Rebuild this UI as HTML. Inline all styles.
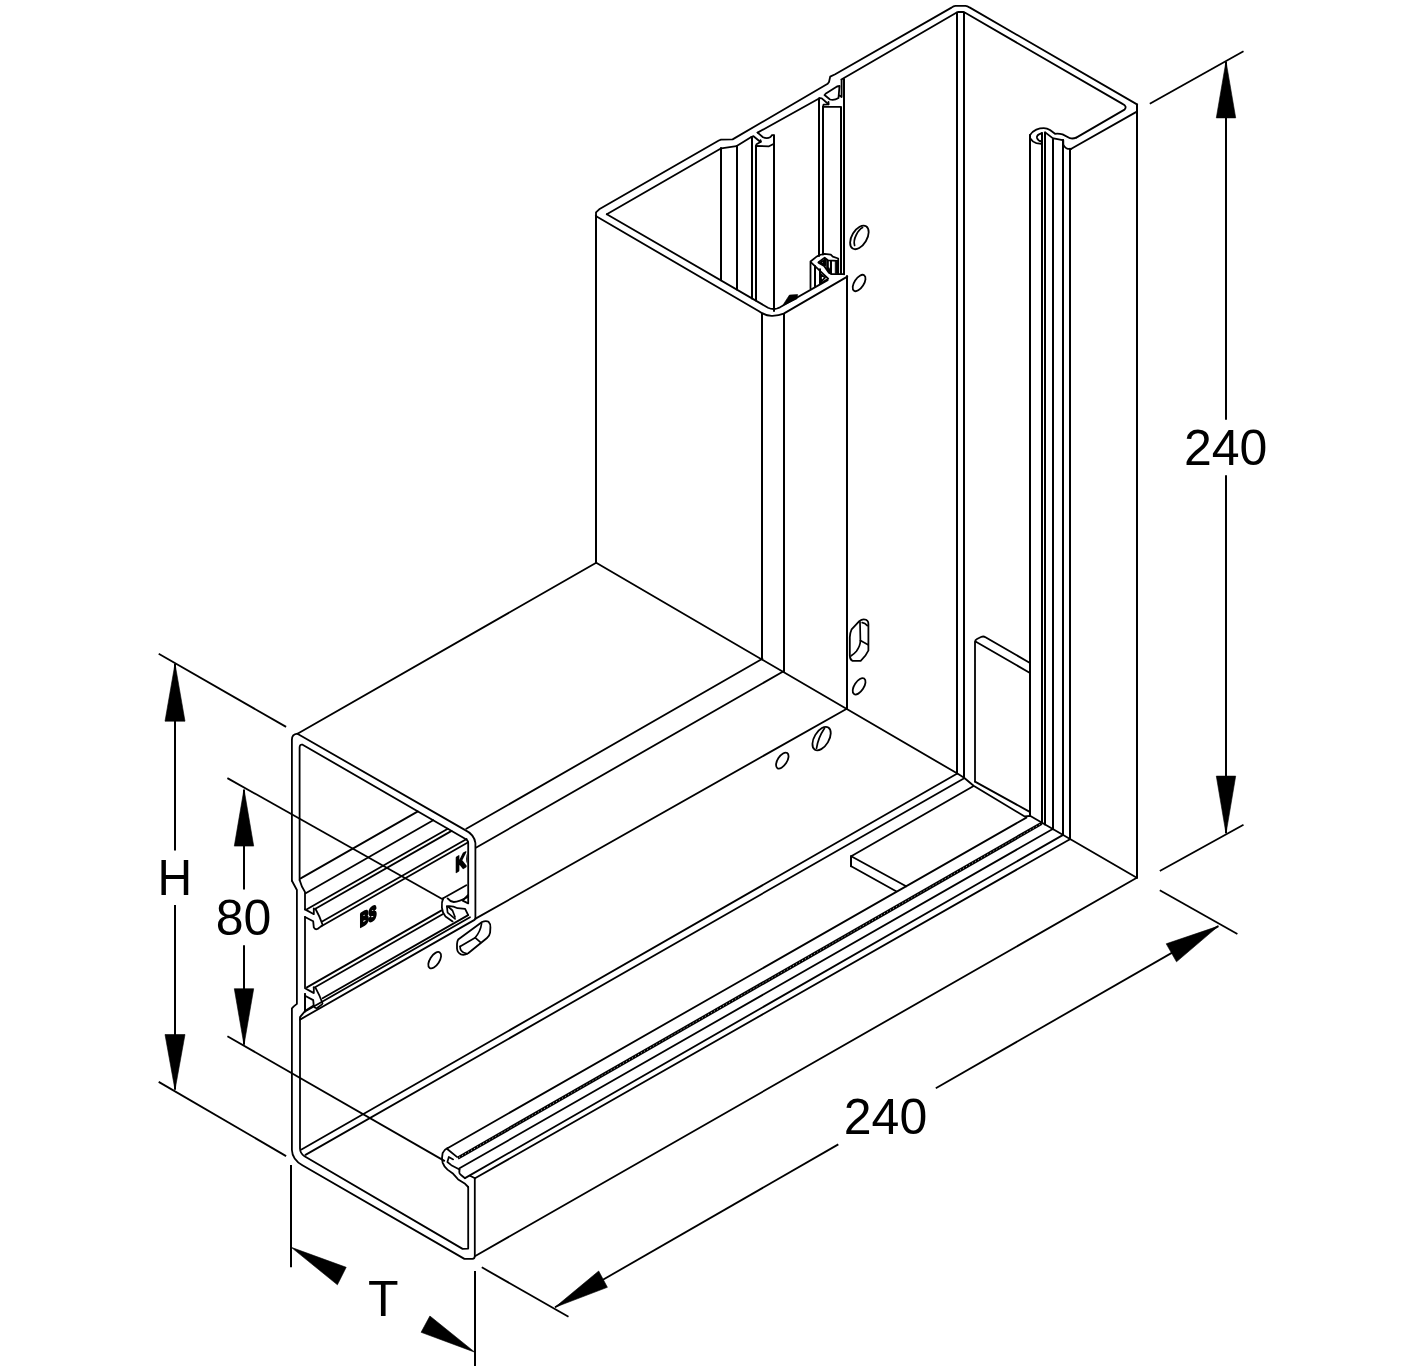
<!DOCTYPE html>
<html><head><meta charset="utf-8"><title>240 H 80 T</title>
<style>
html,body{margin:0;padding:0;background:#fff}
svg{display:block}
.o{fill:none;stroke:#000;stroke-width:1.8;stroke-linecap:round;stroke-linejoin:round}
.d{fill:none;stroke:#000;stroke-width:1.8;stroke-linecap:butt}
.t{fill:none;stroke:#000;stroke-width:1.7;stroke-linecap:round;stroke-linejoin:round}
.v{stroke-width:2}
.k{fill:#000;stroke:#000;stroke-width:0.6;stroke-linejoin:miter}
.w{fill:#fff;stroke:none}
text{font-family:"Liberation Sans",Arial,sans-serif;fill:#000}
</style></head><body>
<svg width="1417" height="1366" viewBox="0 0 1417 1366">
<rect class="w" x="0" y="0" width="1417" height="1366"/>
<line class="d" x1="1149.8" y1="103.7" x2="1243.5" y2="51.2"/>
<line class="d" x1="1159.8" y1="871.0" x2="1243.5" y2="824.8"/>
<line class="d v" x1="1226" y1="62.0" x2="1226" y2="419.7"/>
<line class="d v" x1="1226" y1="475.2" x2="1226" y2="833.0"/>
<path class="k" d="M1226.0,61.2 L1216.3,117.9 L1235.7,117.9Z"/>
<path class="k" d="M1226.0,833.6 L1216.3,776.1 L1235.7,776.1Z"/>
<text x="1183.9" y="464.7" font-size="50" >240</text>
<line class="d" x1="1159.8" y1="890.3" x2="1237.4" y2="934.0"/>
<line class="d" x1="481.8" y1="1267.3" x2="568.5" y2="1316.8"/>
<line class="d" x1="555.0" y1="1307.3" x2="838.3" y2="1144.4"/>
<line class="d" x1="935.8" y1="1088.3" x2="1218.4" y2="926.1"/>
<path class="k" d="M555.0,1307.3 L598.7,1271.0 L607.4,1287.3Z"/>
<path class="k" d="M1218.4,926.1 L1166.2,943.8 L1176.5,961.8Z"/>
<text x="843.8" y="1133.9" font-size="50" >240</text>
<line class="d" x1="158.7" y1="653.7" x2="286.1" y2="726.9"/>
<line class="d" x1="158.7" y1="1081.9" x2="286.1" y2="1156.1"/>
<line class="d v" x1="175" y1="664.0" x2="175" y2="850.4"/>
<line class="d v" x1="175" y1="905.0" x2="175" y2="1089.5"/>
<path class="k" d="M175.0,663.7 L165.0,721.2 L185.0,721.2Z"/>
<path class="k" d="M175.0,1089.9 L165.0,1034.5 L185.0,1034.5Z"/>
<text x="0.0" y="0.0" font-size="50" transform="translate(157.6,894.6) scale(0.96,1)">H</text>
<line class="d" x1="227.4" y1="778.1" x2="443.5" y2="899.8"/>
<line class="d" x1="227.4" y1="1036.2" x2="444.8" y2="1161.1"/>
<line class="d v" x1="244" y1="790.0" x2="244" y2="889.6"/>
<line class="d v" x1="244" y1="945.2" x2="244" y2="1044.5"/>
<path class="k" d="M244.0,789.1 L234.3,846.1 L253.7,846.1Z"/>
<path class="k" d="M244.0,1045.0 L234.3,988.7 L253.7,988.7Z"/>
<text x="215.8" y="934.5" font-size="50" >80</text>
<line class="d v" x1="291" y1="1165.0" x2="291" y2="1267.3"/>
<line class="d v" x1="475" y1="1271.0" x2="475" y2="1366.0"/>
<path class="k" d="M291.2,1247.3 L346.2,1267.3 L337.4,1284.8Z"/>
<path class="k" d="M474.8,1352.2 L429.9,1316.0 L421.1,1332.3Z"/>
<text x="368.0" y="1316.4" font-size="50" >T</text>
<path class="o" d="M596.2,562.8 L957.0,773.3 L964.1,777.8 L973.6,785.8 L1024.7,816.5 L1030.0,815.8 L1136.8,877.8"/>
<line class="o" x1="475.3" y1="1256.0" x2="1136.8" y2="877.8"/>
<line class="o" x1="297.5" y1="733.7" x2="596.2" y2="562.8"/>
<line class="o" x1="466.3" y1="828.8" x2="762.4" y2="658.7"/>
<line class="o" x1="476.3" y1="847.5" x2="783.6" y2="671.2"/>
<line class="o" x1="475.1" y1="918.9" x2="846.8" y2="708.7"/>
<line class="o v" x1="596" y1="215.5" x2="596" y2="562.8"/>
<line class="o v" x1="762" y1="313.5" x2="762" y2="658.7"/>
<line class="o v" x1="784" y1="313.9" x2="784" y2="671.2"/>
<line class="o v" x1="847" y1="276.0" x2="847" y2="708.7"/>
<line class="o v" x1="1137" y1="104.5" x2="1137" y2="877.8"/>
<line class="o v" x1="957" y1="12.5" x2="957" y2="773.6"/>
<line class="o v" x1="964" y1="12.5" x2="964" y2="778.0"/>
<line class="o v" x1="1030" y1="135.0" x2="1030" y2="815.8"/>
<line class="o v" x1="1042" y1="133.0" x2="1042" y2="822.8"/>
<line class="o v" x1="1045" y1="132.6" x2="1045" y2="824.4"/>
<line class="o v" x1="1053" y1="139.4" x2="1053" y2="829.3"/>
<line class="o v" x1="1063" y1="140.0" x2="1063" y2="835.0"/>
<line class="o v" x1="1070" y1="148.8" x2="1070" y2="839.2"/>
<line class="o" x1="301.5" y1="1149.5" x2="956.9" y2="773.8"/>
<line class="o" x1="305.5" y1="1154.9" x2="964.2" y2="778.2"/>
<line class="o" x1="447.5" y1="1148.2" x2="1026.4" y2="817.6"/>
<line x1="457.8" y1="1158.1" x2="1041.6" y2="823.4" stroke="#000" stroke-width="3.4" fill="none"/>
<line x1="459" y1="1157.4" x2="1040.6" y2="824" stroke="#fff" stroke-width="0.8" stroke-dasharray="0.9 2.6" fill="none"/>
<line class="o" x1="459.5" y1="1168.3" x2="1052.7" y2="829.0"/>
<line class="o" x1="465.0" y1="1178.1" x2="1062.7" y2="835.1"/>
<line class="o" x1="475.0" y1="1178.3" x2="1069.5" y2="839.5"/>
<line class="o" x1="975.0" y1="781.6" x2="1029.3" y2="811.6"/>
<line class="o" x1="851.2" y1="856.2" x2="973.2" y2="786.3"/>
<line class="o v" x1="851" y1="856.2" x2="851" y2="866.2"/>
<line class="o" x1="851.2" y1="856.2" x2="906.1" y2="886.2"/>
<line class="o" x1="851.2" y1="866.2" x2="896.1" y2="891.2"/>
<path class="o" d="M975,781.6 L975,642 Q975,640 977,639 L981.5,636.8 Q983.5,636 985.5,637.2 L1030,663"/>
<line class="o" x1="975.5" y1="641.5" x2="1030.0" y2="673.0"/>
<path class="o" d="M596,216.5 L596,212.4 L599.2,209.3 L718.8,140.5 L721,139.6 L732.6,139.4 L827.7,83.8 L829,82 L830.2,76.6 L835.2,74.2 L951.5,7.6 Q953.5,6 955.5,5.8 L965.5,5.8 Q967.5,6 969.5,7.4 L1137,104.4"/>
<path class="o" d="M596.2,216.3 L759,311.2 Q766,316.2 772.5,315.8 Q779,315.6 783.7,313.6 L847.3,276.6"/>
<path class="o" d="M606.8,214.2 L721.3,148.3 L736.3,146.2 L751.3,137"/>
<path class="o" d="M757.6,132.6 L819.5,98.2"/>
<path class="o" d="M841.4,79.5 L956.3,12.8 L958,12 L963.6,12 L965.2,12.8 L1122.5,103.9 Q1127.5,106.2 1124.5,109.6 L1076.3,137.6"/>
<path class="o" d="M606.8,214.2 L768,307.7 Q772.5,309.8 777,308.5 L780,307.3 L827.6,280.1"/>
<path class="o" d="M1136.4,111.9 L1071.3,148.8"/>
<path class="o" d="M1076.3,137.6 Q1073,139 1070,138.2 L1062.6,134.4 Q1059,133.4 1055,133.8 L1050,130 Q1047,128.2 1043.8,128.2 Q1040,128.2 1036.3,129.6 Q1032,131.5 1029.9,135.2"/>
<path class="o" d="M1071.3,148.8 Q1068.5,149.3 1066.3,148.2 Q1064,147 1063.3,144.6 L1063.3,140.2"/>
<path class="o" d="M1029.9,138 Q1032.5,142 1036.3,143.2 L1041.3,143.8"/>
<path class="o" d="M1041.8,133.2 L1039,134.4 Q1036.6,135.6 1037,138 Q1038,141 1041.6,141.5"/>
<path class="o" d="M1053.6,138.3 L1062.6,140.1"/>
<path class="o" d="M1045.2,132.4 L1053,138.4"/>
<line class="o v" x1="721" y1="148.0" x2="721" y2="280.3"/>
<line class="o v" x1="737" y1="146.0" x2="737" y2="289.6"/>
<line class="o v" x1="752" y1="137.5" x2="752" y2="298.5"/>
<line class="o v" x1="756" y1="146.5" x2="756" y2="300.6"/>
<line class="o v" x1="774" y1="135.5" x2="774" y2="311.0"/>
<path class="o" d="M751.3,137 L753.5,136.2 L760.5,142 "/>
<path class="o" d="M757.6,132.6 L763,137.2 Q767,139 770.5,137 L772,135.2 L774,135.2"/>
<path class="o" d="M755.8,146.5 L756.5,144.3 L761,141.8 L760.5,140.2"/>
<path class="o" d="M756,146 L769,146.3 L773.5,144"/>
<path class="o" d="M819.5,98.2 L821.8,98.4 L828.5,104.2"/>
<path class="o" d="M824.5,95 L830,99.5 Q834,100.8 838.5,98 L839.5,86 L837,86.5 L825.5,93.8"/>
<path class="o" d="M823,106.6 L823.5,104.6 L828.5,104.3 L828.5,102"/>
<path class="o" d="M823,106.8 L840.2,106.8"/>
<path class="o" d="M839.5,95.5 L841.6,97 L841.6,80"/>
<line class="o v" x1="819" y1="98.6" x2="819" y2="256.0"/>
<line class="o v" x1="823" y1="107.0" x2="823" y2="254.5"/>
<line class="o v" x1="841" y1="107.0" x2="841" y2="274.0"/>
<line class="o v" x1="844" y1="79.0" x2="844" y2="274.3"/>
<ellipse class="o" cx="859.4" cy="237.4" rx="7.5" ry="13.0" transform="rotate(31 859.4 237.4)"/>
<path class="t" d="M854.6,245.5 Q853.2,241 856.2,235 Q859,229.5 862.6,227.6"/>
<ellipse class="o" cx="859.1" cy="283.0" rx="4.7" ry="9.3" transform="rotate(33 859.1 283.0)"/>
<ellipse class="o" cx="859.1" cy="686.3" rx="4.7" ry="9.3" transform="rotate(33 859.1 686.3)"/>
<path class="o" d="M849.8,655.6 L849.8,637.3 Q850.2,632 851.6,629.3 L859.3,621.2 Q861.5,619.4 863.7,619.4 Q866.5,619.4 867.6,621 Q868.4,622 868.4,624 L868.4,650.5 Q866,656 860.7,660.8 L852.3,660.8 Q850,659.5 849.8,655.6 Z"/>
<path class="t" d="M860,622 L860.4,640.6 L868.1,644.7"/>
<path class="t" d="M860.4,640.6 Q860.4,646 856.4,651.2 Q854,654 851.2,655.8"/>
<path class="t" d="M862.2,622.7 Q865,623 867.3,625.6"/>
<ellipse class="o" cx="821.6" cy="738.6" rx="7.3" ry="13.0" transform="rotate(31 821.6 738.6)"/>
<path class="t" d="M816.5,748.5 Q818,738 824.5,728.3"/>
<ellipse class="o" cx="782.3" cy="760.6" rx="4.6" ry="9.0" transform="rotate(33 782.3 760.6)"/>
<path class="o" d="M810.5,288.6 L810.5,261.5 L816.9,256.4 Q820.5,254.2 824.6,253.8 L830.8,254.6 L832.8,256.7 L838.2,258.5 L838.2,273.8"/>
<line class="o v" x1="815" y1="266.0" x2="815" y2="286.4"/>
<line class="o v" x1="820" y1="269.2" x2="820" y2="283.4"/>
<path class="o" d="M811,262.3 L828.2,278.7 L820.5,283.4"/>
<path class="t" d="M821,274.3 L825.1,277.7 L821,281.6 Z"/>
<path class="t" d="M818.5,262.2 L824.6,257.7 L828,260.3 L838,260.9"/>
<path class="o" d="M818.5,262.6 L824.1,265.9 L828.7,272.6 L831.8,274.1 L844,274.1"/>
<path class="t" d="M820.5,262.5 L823.6,260.4 L823.6,264.6 Z"/>
<line class="t v" x1="825" y1="258.8" x2="825" y2="265.4"/>
<path class="k" d="M826.4,259.6 L828.6,260.6 L828.6,267.0 L830.2,269.5 L830.2,273.4 L828.9,272.6 L826.4,268.8Z"/>
<path class="k" d="M835.2,261.2 L838.2,261.2 L838.2,273.6 L835.2,273.6Z"/>
<line class="t v" x1="831" y1="261.0" x2="831" y2="273.6"/>
<path class="k" d="M782.5,305.8 L789.4,295.1 L797.6,294.5 L797.0,298.8Z"/>
<path class="o" d="M291.9,880.7 L291.9,739.8 Q291.9,734.2 297.4,733.7 L464.8,829.9 Q474.3,834.5 475.4,843 L475.4,918.9"/>
<path class="o" d="M291.9,880.7 L296.9,890 L296.9,1003.9 L293.8,1006.4 L291.9,1008.3 L291.9,1150 Q292.3,1159.5 302.4,1165.3 L464.4,1258.9 L472.4,1258.9 Q474.8,1258.6 474.8,1256 L474.8,1178.2"/>
<path class="o" d="M299.6,880 L299.6,747.6 Q299.6,744 302.6,744.7 L465.1,838.8 Q468.2,839.8 468.2,843.5 L468.2,903.2"/>
<path class="o" d="M299.6,880 Q301.5,887 305,891.9 L305,909.4"/>
<path class="o" d="M305,917 L305,987.2"/>
<path class="o" d="M305,994 L305,1011.2 L300,1017.2 L300,1148.5 Q300.2,1153.5 304.5,1156.3 L462.6,1248.9 L468.2,1248.6 L468.2,1187"/>
<line class="o" x1="300.7" y1="878.4" x2="417.9" y2="811.4"/>
<line class="o" x1="305.7" y1="893.2" x2="433.2" y2="820.3"/>
<line class="o" x1="306.9" y1="909.3" x2="447.8" y2="828.8"/>
<line class="o" x1="315.0" y1="909.0" x2="451.6" y2="830.9"/>
<line class="o" x1="322.6" y1="921.3" x2="466.6" y2="839.0"/>
<line class="o" x1="321.3" y1="926.2" x2="468.2" y2="842.2"/>
<line class="o" x1="306.9" y1="987.4" x2="441.6" y2="910.4"/>
<line class="o" x1="315.0" y1="987.2" x2="442.6" y2="914.3"/>
<line class="o" x1="322.6" y1="998.3" x2="468.2" y2="915.1"/>
<line class="o" x1="305.0" y1="1011.5" x2="470.0" y2="917.2"/>
<line class="o" x1="300.0" y1="1019.6" x2="474.5" y2="919.9"/>
<path class="o" d="M305,909.4 L313,913.8"/>
<path class="o" d="M305,917.0 L313.2,921.3 L313.8,927.4 Q315,930.0 317.5,929.0 L322,925.6"/>
<path class="o" d="M313.8,908.4 L313.8,914.2"/>
<path class="o" d="M315.4,908.8 Q320,917.0 322.5,924.5"/>
<path class="o" d="M305,988.2 L313,992.6"/>
<path class="o" d="M305,995.8 L313.2,1000.1 L313.8,1006.2 Q315,1008.8 317.5,1007.8 L322,1004.4"/>
<path class="o" d="M313.8,987.2 L313.8,993.0"/>
<path class="o" d="M315.4,987.6 Q320,995.8 322.5,1003.3"/>
<path class="o" d="M305,994 L305,1011.5"/>
<line class="t" x1="305.3" y1="1010.8" x2="313.6" y2="1005.5"/>
<path class="o" d="M443.2,898.2 L466.3,885.2"/>
<path class="o" d="M443.2,898.2 Q441.5,902 441.9,907.6 Q442.3,912.5 445.5,916.5 L452.6,921.4"/>
<path class="o" d="M447.6,898.4 Q450,901.5 453.8,902 Q459,902 468.2,896.8"/>
<path class="o" d="M462.6,900.6 L468.2,895 M462.6,900.6 L468.2,903.4"/>
<path class="o" d="M446.9,906.4 Q452,905.5 457.6,908.2 L465.1,908.9 L468.2,915.1"/>
<path class="t" d="M446.9,906.4 L447.6,912.6 L455.1,918.9"/>
<path class="t" d="M448,906.5 L452.5,910.5 L455,917"/>
<path class="o" d="M458.2,939.5 L482,922 Q486,920.2 488.6,921.8 Q490.6,923.6 490.4,927.5 L490.1,932.6 Q489.6,935.8 487,938 L468.2,953.3 Q464,955.6 461,954.4 Q457.4,952.8 457,948.5 L457,944 Q457.2,941 458.2,939.5Z"/>
<path class="t" d="M460.1,946.4 L475.1,937.7 Q480.5,931.5 481.6,923.5"/>
<path class="t" d="M475.1,937.7 L480.3,942.2"/>
<path class="t" d="M460.1,946.4 Q460,950.5 463.5,952.5 L467,953.8"/>
<ellipse class="o" cx="434.7" cy="960.2" rx="4.7" ry="9.3" transform="rotate(33 434.7 960.2)"/>
<path class="o" d="M447.5,1148.2 Q444,1149.6 442.6,1153.2 Q441.4,1158 442.6,1162.6 Q444,1166.6 447.5,1169.6 L453.2,1173.8 Q456,1176.8 458.2,1179.5 L465.1,1183.8 L468.2,1187"/>
<path class="o" d="M447.5,1149.2 L456.9,1156.9"/>
<path class="t" d="M453.2,1159.4 L448.8,1156.9 L447.4,1162 L451.3,1165.2 L459.5,1169.5"/>
<path class="o" d="M459.5,1169.5 Q458.6,1173.5 461,1175 L465,1178.2"/>
<path class="o" d="M470,1175.7 L475,1178.2"/>
<text x="0.0" y="0.0" font-size="19" font-weight="bold" stroke="#000" stroke-width="2.6" stroke-linejoin="round" style="filter:grayscale(1)" transform="translate(359.9,927.3) matrix(0.62,-0.354,0,1,0,0)">BS</text>
<clipPath id="kc"><rect x="440" y="840" width="27.4" height="40"/></clipPath>
<g clip-path="url(#kc)">
<text x="0.0" y="0.0" font-size="21" font-weight="bold" stroke="#000" stroke-width="2.2" stroke-linejoin="round" style="filter:grayscale(1)" transform="translate(455.6,872.4) matrix(0.7,-0.4,0,1,0,0)">KG</text>
</g>
</svg>
</body></html>
